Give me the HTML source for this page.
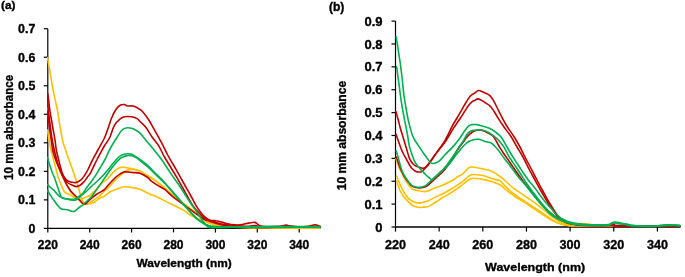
<!DOCTYPE html>
<html><head><meta charset="utf-8"><style>
html,body{margin:0;padding:0;background:#fff;width:685px;height:277px;overflow:hidden}
svg{display:block}
.t{will-change:transform}
</style></head><body>
<svg width="685" height="277" viewBox="0 0 685 277">
<defs>
<clipPath id="ca"><rect x="47" y="20" width="274.5" height="210"/></clipPath>
<clipPath id="cb"><rect x="395" y="20" width="286" height="209"/></clipPath>
</defs>
<rect width="685" height="277" fill="#fff"/>
<g stroke="#000" stroke-width="1.2" fill="none">
<line x1="47.80" y1="28.70" x2="47.80" y2="229.00"/>
<line x1="47.20" y1="228.40" x2="320.50" y2="228.40" stroke-width="1.20"/>
<line x1="43.80" y1="228.40" x2="47.80" y2="228.40"/>
<line x1="43.80" y1="199.87" x2="47.80" y2="199.87"/>
<line x1="43.80" y1="171.34" x2="47.80" y2="171.34"/>
<line x1="43.80" y1="142.81" x2="47.80" y2="142.81"/>
<line x1="43.80" y1="114.29" x2="47.80" y2="114.29"/>
<line x1="43.80" y1="85.76" x2="47.80" y2="85.76"/>
<line x1="43.80" y1="57.23" x2="47.80" y2="57.23"/>
<line x1="43.80" y1="28.70" x2="47.80" y2="28.70"/>
<line x1="47.80" y1="228.40" x2="47.80" y2="232.40"/>
<line x1="89.70" y1="228.40" x2="89.70" y2="232.40"/>
<line x1="131.60" y1="228.40" x2="131.60" y2="232.40"/>
<line x1="173.50" y1="228.40" x2="173.50" y2="232.40"/>
<line x1="215.40" y1="228.40" x2="215.40" y2="232.40"/>
<line x1="257.30" y1="228.40" x2="257.30" y2="232.40"/>
<line x1="299.20" y1="228.40" x2="299.20" y2="232.40"/>
</g>
<g stroke="#000" stroke-width="1.2" fill="none">
<line x1="395.50" y1="21.10" x2="395.50" y2="227.60"/>
<line x1="394.90" y1="227.00" x2="680.60" y2="227.00" stroke-width="1.50"/>
<line x1="391.50" y1="227.00" x2="395.50" y2="227.00"/>
<line x1="391.50" y1="204.12" x2="395.50" y2="204.12"/>
<line x1="391.50" y1="181.24" x2="395.50" y2="181.24"/>
<line x1="391.50" y1="158.37" x2="395.50" y2="158.37"/>
<line x1="391.50" y1="135.49" x2="395.50" y2="135.49"/>
<line x1="391.50" y1="112.61" x2="395.50" y2="112.61"/>
<line x1="391.50" y1="89.73" x2="395.50" y2="89.73"/>
<line x1="391.50" y1="66.86" x2="395.50" y2="66.86"/>
<line x1="391.50" y1="43.98" x2="395.50" y2="43.98"/>
<line x1="391.50" y1="21.10" x2="395.50" y2="21.10"/>
<line x1="395.50" y1="227.00" x2="395.50" y2="231.60"/>
<line x1="439.15" y1="227.00" x2="439.15" y2="231.60"/>
<line x1="482.80" y1="227.00" x2="482.80" y2="231.60"/>
<line x1="526.45" y1="227.00" x2="526.45" y2="231.60"/>
<line x1="570.10" y1="227.00" x2="570.10" y2="231.60"/>
<line x1="613.75" y1="227.00" x2="613.75" y2="231.60"/>
<line x1="657.40" y1="227.00" x2="657.40" y2="231.60"/>
</g>
<g fill="none" stroke-width="1.6" stroke-linejoin="round" stroke-linecap="round" clip-path="url(#ca)">
<path d="M47.5,57.6C47.9,60.0 49.1,66.9 50.0,72.0C50.9,77.1 51.9,83.5 52.7,88.0C53.5,92.5 54.2,95.3 55.0,99.0C55.8,102.7 56.6,105.8 57.4,110.0C58.2,114.2 58.9,119.8 59.6,124.0C60.3,128.2 60.9,131.7 61.5,135.0C62.1,138.3 62.8,141.5 63.5,144.0C64.2,146.5 64.7,147.3 65.6,150.0C66.5,152.7 67.8,156.7 69.0,160.0C70.2,163.3 71.7,167.2 72.7,170.0C73.7,172.8 74.1,174.3 75.0,177.0C75.9,179.7 76.9,182.8 77.9,186.0C78.9,189.2 80.0,193.5 80.8,196.0C81.6,198.5 82.0,199.9 82.5,201.0C83.0,202.1 83.3,202.1 84.1,202.5C84.8,202.9 86.2,203.3 87.0,203.5C87.8,203.7 88.2,203.9 89.0,203.8C89.8,203.7 91.0,203.3 92.0,203.0C93.0,202.7 93.8,202.5 95.1,201.7C96.4,200.9 98.5,198.9 100.0,198.0C101.5,197.1 102.3,197.4 104.0,196.4C105.7,195.4 108.3,193.0 110.0,192.0C111.7,191.0 112.4,191.0 114.1,190.3C115.8,189.6 118.3,188.6 120.0,188.0C121.7,187.4 122.5,186.9 124.2,186.8C125.9,186.7 127.4,186.8 130.0,187.2C132.6,187.6 136.6,188.1 140.0,189.3C143.4,190.5 147.8,193.3 150.2,194.4C152.6,195.5 151.4,194.4 154.6,195.8C157.8,197.2 164.3,200.7 169.2,203.1C174.1,205.5 180.2,208.3 183.8,210.4C187.5,212.5 187.9,213.8 191.1,215.5C194.3,217.2 199.7,219.4 202.8,220.7C206.0,222.0 207.1,222.6 210.0,223.5C212.9,224.4 215.0,225.4 220.0,226.0C225.0,226.6 230.0,227.0 240.0,227.3C250.0,227.6 266.7,227.7 280.0,227.8C293.3,227.9 313.3,228.0 320.0,228.0" stroke="#FFC000"/>
<path d="M47.5,130.0C47.7,131.2 48.1,134.5 48.5,137.0C48.9,139.5 49.5,142.5 50.0,145.0C50.5,147.5 50.9,149.5 51.5,152.0C52.1,154.5 52.8,157.5 53.5,160.0C54.2,162.5 54.8,164.5 55.5,167.0C56.2,169.5 56.8,172.5 57.5,175.0C58.2,177.5 59.2,179.8 60.0,182.0C60.8,184.2 61.7,186.3 62.5,188.0C63.3,189.7 63.8,191.1 64.6,192.0C65.3,192.9 66.1,193.1 67.0,193.5C67.9,193.9 69.1,194.0 70.0,194.5C70.9,195.0 71.4,195.8 72.3,196.4C73.2,197.0 74.4,197.6 75.4,198.0C76.4,198.4 77.5,198.8 78.5,199.0C79.5,199.2 80.4,199.1 81.2,199.0C82.0,198.9 82.2,198.5 83.1,198.2C84.0,197.9 85.3,197.5 86.5,197.0C87.7,196.5 89.0,196.0 90.2,195.1C91.5,194.2 92.8,192.7 94.0,191.5C95.2,190.3 96.2,189.1 97.3,188.0C98.4,186.9 99.5,186.0 100.5,185.0C101.5,184.0 102.2,182.9 103.3,182.0C104.4,181.1 105.8,180.5 106.9,179.5C108.0,178.5 108.8,177.3 110.0,176.0C111.2,174.7 112.8,172.7 114.0,171.5C115.2,170.3 116.5,169.5 117.5,168.8C118.5,168.2 119.2,167.9 120.3,167.6C121.4,167.3 122.7,167.1 124.0,167.2C125.3,167.3 126.5,167.7 128.0,168.0C129.6,168.3 131.3,168.5 133.3,169.0C135.3,169.5 138.1,170.3 140.0,171.1C141.9,171.9 143.6,173.3 144.8,174.0C146.0,174.7 145.7,174.5 147.3,175.5C148.9,176.5 152.5,178.4 154.6,179.8C156.7,181.2 158.3,182.6 160.0,184.0C161.7,185.4 163.3,186.6 165.0,188.0C166.7,189.4 168.3,191.1 170.0,192.5C171.7,193.9 173.3,195.2 175.0,196.5C176.7,197.8 178.3,199.2 180.0,200.5C181.7,201.8 183.3,203.2 185.0,204.5C186.7,205.8 188.2,207.1 190.0,208.5C191.8,209.9 194.0,211.5 196.0,213.0C198.0,214.5 200.0,216.1 202.0,217.5C204.0,218.9 205.8,220.3 208.0,221.5C210.2,222.7 212.2,223.7 215.0,224.5C217.8,225.3 220.8,225.9 225.0,226.3C229.2,226.8 230.8,227.0 240.0,227.2C249.2,227.4 266.7,227.5 280.0,227.6C293.3,227.7 313.3,227.8 320.0,227.8" stroke="#FFC000"/>
<path d="M47.5,108.0C47.7,109.5 48.2,113.8 48.6,117.0C49.0,120.2 49.5,123.7 49.9,127.0C50.3,130.3 50.8,133.8 51.3,137.0C51.8,140.2 52.3,143.3 52.8,146.0C53.3,148.7 53.8,150.5 54.5,153.0C55.2,155.5 56.0,158.3 56.8,161.0C57.6,163.7 58.5,166.4 59.5,169.0C60.5,171.6 61.4,174.1 62.5,176.5C63.6,178.9 64.8,181.2 66.0,183.5C67.2,185.8 68.7,188.5 70.0,190.5C71.3,192.5 72.7,194.0 74.0,195.5C75.3,197.0 76.7,198.3 78.0,199.5C79.3,200.7 80.8,202.0 82.0,202.8C83.2,203.6 84.0,204.1 85.0,204.3C86.0,204.5 86.8,204.4 88.1,203.8C89.4,203.2 91.2,201.7 93.0,200.5C94.8,199.3 97.2,197.7 98.9,196.4C100.6,195.1 101.8,193.7 103.0,192.5C104.2,191.3 105.3,190.5 106.4,189.5C107.5,188.5 108.2,187.9 109.5,186.5C110.8,185.1 113.0,182.6 114.5,181.0C116.0,179.4 117.1,178.3 118.5,177.0C119.9,175.7 121.6,174.1 123.0,173.0C124.4,171.9 125.5,170.9 127.0,170.3C128.5,169.7 130.2,169.4 132.0,169.4C133.8,169.4 135.9,169.8 138.0,170.6C140.1,171.3 143.2,173.1 144.8,173.9C146.4,174.7 145.7,174.5 147.3,175.6C148.9,176.7 152.5,178.8 154.6,180.3C156.7,181.8 158.3,183.1 160.0,184.5C161.7,185.9 163.3,187.1 165.0,188.5C166.7,189.9 168.3,191.6 170.0,193.0C171.7,194.4 173.3,195.7 175.0,197.0C176.7,198.3 178.3,199.7 180.0,201.0C181.7,202.3 183.3,203.7 185.0,205.0C186.7,206.3 188.2,207.6 190.0,209.0C191.8,210.4 194.0,212.0 196.0,213.5C198.0,215.0 200.0,216.6 202.0,218.0C204.0,219.4 205.8,220.8 208.0,222.0C210.2,223.2 212.2,224.2 215.0,225.0C217.8,225.8 220.8,226.2 225.0,226.6C229.2,227.0 230.8,227.2 240.0,227.4C249.2,227.6 266.7,227.7 280.0,227.8C293.3,227.9 313.3,228.0 320.0,228.0" stroke="#FFC000"/>
<path d="M47.7,93.5C47.9,94.8 48.4,98.2 48.8,101.0C49.1,103.8 49.3,106.8 49.8,110.0C50.2,113.2 50.9,116.7 51.5,120.0C52.1,123.3 52.6,126.7 53.2,130.0C53.8,133.3 54.5,136.7 55.0,140.0C55.5,143.3 55.8,147.0 56.3,150.0C56.8,153.0 57.6,155.3 58.2,158.0C58.9,160.7 59.5,163.5 60.2,166.0C60.9,168.5 61.5,171.0 62.3,173.0C63.1,175.0 63.8,176.7 64.8,178.0C65.8,179.3 66.8,180.3 68.0,181.0C69.2,181.7 70.7,182.1 72.0,182.3C73.3,182.6 74.5,182.9 76.0,182.5C77.5,182.1 79.6,181.0 81.0,179.8C82.4,178.6 83.3,177.2 84.5,175.5C85.7,173.8 86.7,172.1 88.0,169.5C89.3,166.9 90.8,163.2 92.5,160.0C94.2,156.8 95.9,153.7 97.9,150.0C99.9,146.3 102.7,141.6 104.4,138.0C106.1,134.4 106.8,131.8 108.0,128.5C109.2,125.2 110.2,121.4 111.5,118.2C112.8,115.0 114.5,111.7 115.9,109.5C117.4,107.3 118.8,106.0 120.2,105.2C121.6,104.4 123.3,104.4 124.5,104.5C125.7,104.6 126.0,105.8 127.4,106.0C128.8,106.2 131.3,105.5 133.2,106.0C135.1,106.5 137.3,107.7 139.0,108.8C140.7,109.9 141.7,110.5 143.3,112.4C144.9,114.3 146.9,117.0 148.8,120.0C150.7,123.0 152.4,126.3 154.6,130.2C156.8,134.1 159.7,139.3 161.9,143.4C164.1,147.5 165.8,151.4 167.7,155.0C169.6,158.6 171.6,161.6 173.5,165.0C175.4,168.4 177.5,172.0 179.4,175.4C181.3,178.8 183.2,182.2 185.0,185.5C186.8,188.8 188.7,191.8 190.4,195.0C192.2,198.2 193.9,201.8 195.5,204.6C197.1,207.3 198.6,209.6 200.0,211.5C201.4,213.4 202.5,214.8 204.2,216.3C205.9,217.8 208.1,219.6 210.0,220.3C211.9,221.0 213.8,220.3 215.9,220.7C218.0,221.0 219.9,221.8 222.5,222.4C225.1,223.0 228.4,224.1 231.3,224.5C234.2,224.9 237.1,225.1 240.0,224.9C242.9,224.7 246.3,223.5 248.8,223.1C251.3,222.7 253.2,222.0 254.9,222.4C256.6,222.8 257.7,224.7 259.3,225.4C260.9,226.1 261.4,226.4 264.5,226.6C267.6,226.8 274.5,226.6 278.0,226.4C281.5,226.2 283.3,225.4 285.6,225.4C287.9,225.4 289.6,226.1 292.0,226.3C294.4,226.6 297.3,226.9 300.0,226.9C302.7,226.9 305.5,226.6 308.0,226.3C310.5,226.0 313.0,224.9 315.0,224.9C317.0,224.9 319.2,226.1 320.0,226.3" stroke="#C00000"/>
<path d="M47.5,103.0C47.6,104.2 48.0,107.2 48.3,110.0C48.6,112.8 49.1,116.7 49.5,120.0C49.9,123.3 50.3,126.7 50.8,130.0C51.2,133.3 51.7,137.0 52.2,140.0C52.7,143.0 53.2,145.3 53.8,148.0C54.4,150.7 55.0,153.2 55.7,156.0C56.4,158.8 57.3,162.2 58.2,165.0C59.1,167.8 60.2,170.7 61.3,173.0C62.3,175.3 63.4,177.3 64.5,179.0C65.6,180.7 66.8,182.0 68.0,183.0C69.2,184.0 70.6,184.4 72.0,185.0C73.4,185.6 75.1,186.6 76.5,186.6C77.9,186.6 79.2,185.8 80.5,185.0C81.8,184.2 82.8,183.1 84.0,181.8C85.2,180.5 86.4,178.5 87.5,177.0C88.6,175.5 89.2,175.4 90.7,172.6C92.2,169.8 95.2,163.1 96.8,160.0C98.3,156.9 98.8,156.2 100.0,154.0C101.2,151.8 102.4,149.2 104.0,146.5C105.6,143.8 107.8,141.5 109.5,138.0C111.2,134.5 112.6,128.6 114.4,125.4C116.2,122.2 118.5,120.3 120.2,118.9C121.9,117.5 122.6,117.2 124.5,116.8C126.4,116.4 129.5,116.4 131.7,116.8C133.9,117.2 136.1,118.1 137.5,118.9C138.9,119.7 138.6,120.1 140.0,121.5C141.4,122.9 143.7,124.6 145.8,127.3C147.9,130.0 150.2,134.3 152.4,137.5C154.6,140.7 157.2,143.4 159.0,146.3C160.8,149.2 162.2,152.7 163.4,155.0C164.6,157.3 164.1,156.3 166.3,160.0C168.5,163.7 173.1,171.1 176.5,176.9C179.9,182.7 183.9,190.2 186.7,195.0C189.4,199.8 190.8,202.8 193.0,206.0C195.2,209.2 197.8,211.8 200.0,214.0C202.2,216.2 203.5,217.7 206.0,219.0C208.5,220.3 211.8,221.1 215.0,222.0C218.2,222.9 220.8,223.9 225.0,224.5C229.2,225.1 236.0,225.5 240.0,225.8C244.0,226.1 246.5,226.4 249.0,226.3C251.5,226.2 253.2,225.5 255.0,225.5C256.8,225.5 255.8,226.3 260.0,226.5C264.2,226.7 270.0,226.7 280.0,226.8C290.0,226.9 313.3,226.9 320.0,226.9" stroke="#C00000"/>
<path d="M47.5,111.0C47.7,112.5 48.1,116.8 48.5,120.0C48.9,123.2 49.3,126.7 49.8,130.0C50.2,133.3 50.7,136.7 51.2,140.0C51.7,143.3 52.1,147.0 52.7,150.0C53.3,153.0 54.2,155.5 55.0,158.0C55.8,160.5 56.7,162.7 57.7,165.0C58.7,167.3 59.5,169.0 60.8,172.0C62.1,175.0 64.2,179.8 65.7,182.8C67.2,185.8 68.8,188.2 70.0,190.0C71.2,191.8 71.9,192.3 73.0,193.5C74.1,194.7 75.3,195.7 76.5,196.9C77.7,198.1 78.8,199.3 80.0,200.5C81.2,201.7 82.4,203.5 83.4,204.0C84.4,204.5 84.8,204.4 86.0,203.5C87.2,202.6 88.9,200.4 90.7,198.8C92.5,197.2 94.8,195.5 97.0,194.0C99.2,192.5 102.2,191.2 103.9,190.0C105.6,188.8 105.7,188.0 107.0,186.5C108.3,185.0 110.5,182.6 112.0,181.0C113.5,179.4 114.6,178.2 116.0,177.0C117.4,175.8 119.2,174.4 120.6,173.6C122.0,172.8 123.0,172.1 124.6,171.9C126.2,171.7 128.6,172.1 130.0,172.2C131.4,172.3 131.6,172.4 133.3,172.6C135.0,172.8 137.6,172.4 140.0,173.2C142.4,174.0 145.8,176.2 147.7,177.5C149.6,178.8 149.3,179.6 151.7,181.3C154.1,183.0 159.6,186.4 161.9,187.8C164.2,189.2 163.6,188.4 165.5,190.0C167.4,191.6 170.5,194.8 173.6,197.3C176.7,199.8 180.3,202.3 184.0,205.0C187.7,207.7 192.1,211.0 195.5,213.4C198.9,215.8 201.8,217.9 204.2,219.2C206.6,220.5 207.4,220.5 210.0,221.4C212.6,222.3 215.8,223.7 220.0,224.5C224.2,225.3 225.8,226.0 235.0,226.5C244.2,227.0 267.2,227.4 275.0,227.3C282.8,227.2 280.0,226.3 282.0,226.0C284.0,225.7 285.2,225.3 287.0,225.4C288.8,225.5 287.5,226.3 293.0,226.6C298.5,226.9 315.5,227.1 320.0,227.2" stroke="#C00000"/>
<path d="M47.5,157.5C47.9,158.9 49.2,163.6 50.0,166.0C50.8,168.4 51.3,169.9 52.1,172.0C52.9,174.1 53.8,175.8 54.8,178.5C55.8,181.2 57.0,185.2 58.1,188.3C59.2,191.4 60.1,195.2 61.3,196.9C62.4,198.7 63.4,198.4 65.0,198.8C66.6,199.2 69.4,199.3 71.1,199.3C72.8,199.3 73.7,199.5 75.0,199.0C76.3,198.5 77.7,197.5 79.0,196.5C80.3,195.5 81.7,194.7 83.0,193.2C84.3,191.7 85.4,189.4 86.7,187.5C88.0,185.6 89.6,183.9 91.0,182.0C92.4,180.1 93.8,178.2 95.3,175.9C96.8,173.6 98.4,170.7 100.0,168.0C101.6,165.3 103.0,163.2 104.7,160.0C106.4,156.8 108.0,152.7 110.0,149.0C112.0,145.3 114.7,141.1 116.6,138.0C118.5,134.9 120.0,132.2 121.6,130.5C123.2,128.8 124.3,128.4 126.0,128.0C127.7,127.6 129.8,127.8 131.7,128.3C133.6,128.8 136.1,130.4 137.5,131.2C138.9,132.0 139.0,132.1 140.0,133.1C141.0,134.1 142.1,135.5 143.3,137.0C144.5,138.5 145.4,139.6 147.3,141.9C149.2,144.2 152.2,147.7 154.6,150.7C157.0,153.7 159.5,156.6 161.9,160.0C164.3,163.4 166.3,166.8 169.2,171.1C172.1,175.4 176.7,181.7 179.4,185.7C182.1,189.7 183.1,191.6 185.3,195.0C187.5,198.4 190.5,203.1 192.6,206.1C194.7,209.1 196.2,211.0 197.7,213.2C199.2,215.3 200.3,217.2 201.5,219.0C202.7,220.8 203.9,222.8 205.1,224.2C206.3,225.6 207.5,226.7 208.8,227.3C210.1,227.9 207.8,227.7 213.0,227.6C218.2,227.5 230.5,227.2 240.0,227.0C249.5,226.8 256.7,226.7 270.0,226.6C283.3,226.5 311.7,226.6 320.0,226.6" stroke="#00B050"/>
<path d="M47.5,184.5C48.0,185.0 49.4,186.5 50.5,187.5C51.6,188.5 53.1,189.4 54.2,190.5C55.3,191.6 56.0,193.0 57.0,194.0C58.0,195.0 58.8,195.9 60.0,196.6C61.2,197.3 62.8,197.9 64.0,198.3C65.2,198.7 66.2,198.7 67.4,199.0C68.6,199.3 69.8,199.8 71.0,200.0C72.2,200.2 73.5,200.4 74.7,200.2C75.9,199.9 76.8,199.4 78.0,198.5C79.2,197.6 80.4,196.4 82.0,195.0C83.6,193.6 85.9,191.8 87.8,190.0C89.7,188.2 91.6,186.2 93.5,184.5C95.4,182.8 97.3,181.1 99.0,179.5C100.7,177.9 101.9,176.8 103.5,175.0C105.1,173.2 106.9,171.1 108.6,169.0C110.3,166.9 112.1,164.5 113.8,162.5C115.5,160.5 117.4,158.2 118.8,157.0C120.2,155.8 120.9,155.5 122.0,155.0C123.1,154.5 124.4,154.2 125.5,154.0C126.6,153.8 127.4,153.7 128.5,153.8C129.6,153.9 130.8,154.1 132.0,154.6C133.2,155.1 134.6,155.9 136.0,156.8C137.4,157.7 138.6,158.4 140.5,159.8C142.4,161.2 145.0,163.1 147.3,165.2C149.7,167.3 151.7,169.6 154.6,172.5C157.5,175.4 161.4,179.0 164.8,182.7C168.2,186.3 171.8,190.8 175.0,194.4C178.2,198.1 181.1,201.6 183.8,204.6C186.5,207.6 188.8,210.2 191.0,212.5C193.2,214.8 195.0,216.8 197.0,218.5C199.0,220.2 201.2,221.7 203.0,222.8C204.8,223.9 206.3,224.7 208.0,225.3C209.7,225.9 211.0,226.2 213.0,226.4C215.0,226.7 215.5,226.7 220.0,226.8C224.5,226.9 231.7,226.9 240.0,226.9C248.3,226.9 260.0,226.6 270.0,226.6C280.0,226.6 291.7,227.0 300.0,227.0C308.3,227.0 316.7,226.8 320.0,226.7" stroke="#00B050"/>
<path d="M47.5,190.5C47.9,191.2 49.1,193.1 50.0,194.5C50.9,195.9 51.6,197.1 52.8,198.8C54.0,200.5 55.6,202.9 57.1,204.6C58.6,206.3 59.8,208.2 61.5,209.0C63.2,209.8 65.8,209.4 67.4,209.7C69.0,210.0 69.8,210.8 71.0,211.0C72.2,211.2 73.4,211.8 74.7,211.2C76.0,210.6 77.5,208.6 79.0,207.5C80.5,206.4 81.9,205.8 83.4,204.6C84.9,203.3 86.5,201.5 88.0,200.0C89.5,198.5 90.4,198.1 92.2,195.8C94.0,193.6 96.8,189.3 98.8,186.5C100.8,183.7 102.4,181.2 104.0,179.0C105.6,176.8 106.7,175.2 108.2,173.0C109.8,170.8 111.4,168.3 113.3,166.0C115.2,163.7 117.9,160.7 119.5,159.2C121.1,157.7 121.8,157.6 123.0,157.0C124.2,156.4 125.4,156.1 126.5,155.8C127.6,155.5 128.4,155.4 129.5,155.4C130.6,155.4 131.8,155.5 133.0,156.0C134.2,156.5 135.8,157.4 137.0,158.2C138.2,159.0 138.8,159.6 140.5,161.0C142.2,162.4 145.0,164.4 147.3,166.5C149.7,168.6 151.7,170.7 154.6,173.5C157.5,176.3 161.4,179.9 164.8,183.5C168.2,187.1 171.8,191.4 175.0,195.0C178.2,198.6 181.1,202.0 183.8,205.0C186.5,208.0 188.8,210.6 191.0,213.0C193.2,215.4 195.0,217.5 197.0,219.2C199.0,220.9 201.2,222.2 203.0,223.3C204.8,224.4 206.3,225.2 208.0,225.8C209.7,226.4 211.0,226.7 213.0,227.0C215.0,227.3 215.5,227.3 220.0,227.4C224.5,227.5 231.7,227.4 240.0,227.3C248.3,227.2 260.0,227.1 270.0,227.1C280.0,227.1 291.7,227.3 300.0,227.3C308.3,227.3 316.7,227.1 320.0,227.1" stroke="#00B050"/>
</g>
<g fill="none" stroke-width="1.6" stroke-linejoin="round" stroke-linecap="round" clip-path="url(#cb)">
<path d="M396.0,158.5C396.2,159.3 396.9,161.8 397.5,163.5C398.1,165.2 398.8,167.3 399.5,168.8C400.2,170.3 400.9,170.9 401.7,172.5C402.5,174.1 403.5,176.7 404.5,178.5C405.5,180.3 406.3,181.9 407.5,183.6C408.7,185.3 410.6,187.5 411.8,188.6C413.1,189.7 413.8,189.6 415.0,190.0C416.2,190.4 417.1,190.6 419.0,190.8C420.9,191.1 423.8,191.9 426.2,191.5C428.6,191.1 430.7,189.7 433.5,188.6C436.3,187.5 439.8,186.4 443.0,185.0C446.2,183.6 450.1,181.6 452.6,180.2C455.1,178.8 456.3,177.6 458.0,176.5C459.7,175.4 461.5,174.9 462.8,173.9C464.1,172.9 464.9,171.6 466.0,170.5C467.1,169.4 468.0,168.2 469.1,167.6C470.2,167.0 470.8,166.8 472.9,167.0C475.0,167.2 478.8,168.0 481.7,168.6C484.6,169.2 488.1,169.8 490.6,170.7C493.1,171.6 495.1,173.2 496.7,174.2C498.3,175.2 498.6,175.4 500.0,176.5C501.4,177.6 503.4,179.1 505.0,180.5C506.6,181.9 508.1,183.6 509.7,185.0C511.3,186.4 512.9,187.6 514.5,188.8C516.1,190.0 517.6,191.0 519.5,192.3C521.4,193.6 523.8,195.3 526.0,196.8C528.2,198.3 530.6,199.9 532.5,201.2C534.4,202.5 535.9,203.6 537.5,204.8C539.1,206.0 540.6,207.2 542.2,208.5C543.8,209.8 545.4,211.1 547.0,212.5C548.6,213.9 550.3,215.4 552.0,216.7C553.7,217.9 555.4,219.1 557.0,220.0C558.6,220.9 560.3,221.7 561.7,222.3C563.1,222.9 564.1,223.2 565.5,223.5C566.9,223.8 568.0,224.0 569.8,224.1C571.5,224.2 573.8,224.2 576.0,224.2C578.2,224.2 580.8,223.9 583.0,223.9C585.2,223.9 587.3,223.8 589.0,224.0C590.7,224.2 591.2,224.7 593.0,225.0C594.8,225.3 585.5,225.6 600.0,225.8C614.5,226.0 666.7,226.0 680.0,226.0" stroke="#FFC000"/>
<path d="M396.6,176.3C397.0,177.2 398.1,180.1 399.0,182.0C399.9,183.9 400.8,186.1 401.7,187.9C402.6,189.7 403.5,191.4 404.5,193.0C405.5,194.6 406.6,196.2 407.5,197.3C408.4,198.4 409.1,199.0 410.0,199.7C410.9,200.4 411.7,201.0 413.2,201.6C414.7,202.2 416.8,203.1 419.0,203.1C421.2,203.1 424.2,202.2 426.2,201.6C428.2,201.0 429.3,200.2 431.0,199.4C432.7,198.6 434.4,197.6 436.4,196.6C438.4,195.6 440.7,194.8 443.0,193.7C445.3,192.6 448.0,191.0 450.0,189.8C452.0,188.6 453.5,187.6 455.0,186.6C456.5,185.6 457.7,184.9 459.0,184.0C460.3,183.1 461.7,182.1 463.0,181.0C464.3,179.9 465.8,178.5 467.0,177.5C468.2,176.5 469.1,175.7 470.3,175.2C471.5,174.7 471.8,174.4 474.1,174.5C476.4,174.6 481.0,175.1 484.2,175.8C487.4,176.6 490.5,178.2 493.1,179.0C495.7,179.8 497.9,179.7 500.0,180.9C502.1,182.1 503.7,184.6 505.5,186.4C507.3,188.2 509.2,190.0 511.0,191.5C512.8,193.0 514.2,194.2 516.0,195.5C517.8,196.8 520.0,198.2 522.0,199.5C524.0,200.8 526.0,202.2 528.0,203.5C530.0,204.8 532.0,206.2 534.0,207.5C536.0,208.8 538.0,210.2 540.0,211.5C542.0,212.8 544.0,214.2 546.0,215.5C548.0,216.8 550.0,218.3 552.0,219.5C554.0,220.7 556.0,222.0 558.0,222.8C560.0,223.7 562.0,224.2 564.0,224.6C566.0,225.0 567.3,225.2 570.0,225.4C572.7,225.6 561.7,225.7 580.0,225.8C598.3,225.9 663.3,226.0 680.0,226.0" stroke="#FFC000"/>
<path d="M396.6,181.0C396.9,181.8 397.7,184.2 398.3,186.0C398.9,187.8 399.6,189.8 400.5,191.5C401.4,193.2 402.3,194.9 403.5,196.5C404.7,198.1 406.3,199.7 407.5,200.9C408.7,202.1 409.6,203.0 410.5,203.8C411.4,204.7 411.8,205.4 413.2,206.0C414.6,206.6 417.4,207.2 419.0,207.4C420.6,207.6 421.6,207.3 423.0,207.2C424.4,207.1 426.2,207.1 427.7,206.7C429.2,206.2 430.4,205.4 432.0,204.5C433.6,203.6 435.2,202.7 437.0,201.5C438.8,200.3 440.8,198.6 443.0,197.3C445.2,196.0 448.0,194.7 450.0,193.5C452.0,192.3 453.3,191.2 455.0,190.0C456.7,188.8 458.5,187.8 460.2,186.5C461.9,185.2 463.3,183.8 465.0,182.5C466.7,181.2 468.8,179.7 470.3,179.0C471.8,178.3 471.8,178.2 474.1,178.3C476.4,178.4 481.0,179.0 484.2,179.6C487.4,180.2 490.5,181.2 493.1,182.1C495.7,182.9 498.0,183.5 500.0,184.7C502.0,185.8 503.3,187.6 505.0,189.0C506.7,190.4 508.3,191.8 510.0,193.0C511.7,194.2 513.2,195.3 515.0,196.5C516.8,197.7 519.0,199.1 521.0,200.3C523.0,201.6 525.0,202.7 527.0,204.0C529.0,205.3 531.0,206.7 533.0,208.0C535.0,209.3 537.0,210.7 539.0,212.0C541.0,213.3 543.0,214.7 545.0,216.0C547.0,217.3 549.0,218.7 551.0,219.8C553.0,220.9 555.0,222.0 557.0,222.8C559.0,223.6 561.0,224.1 563.0,224.5C565.0,224.9 566.2,225.2 569.0,225.4C571.8,225.6 561.5,225.7 580.0,225.8C598.5,225.9 663.3,226.0 680.0,226.0" stroke="#FFC000"/>
<path d="M395.9,111.6C396.2,112.8 397.3,116.4 398.0,119.0C398.7,121.6 399.3,124.3 400.0,127.0C400.7,129.7 401.6,132.5 402.4,135.0C403.1,137.5 403.8,139.7 404.5,142.0C405.2,144.3 405.8,146.3 406.6,149.0C407.4,151.7 408.5,155.8 409.3,158.0C410.1,160.2 410.8,160.9 411.5,162.0C412.2,163.1 412.9,163.8 413.6,164.5C414.4,165.2 415.1,165.6 416.0,166.0C416.9,166.4 417.8,166.8 419.0,167.2C420.2,167.6 421.9,168.6 423.3,168.3C424.8,168.0 426.4,166.9 427.7,165.6C429.0,164.3 429.9,162.1 431.0,160.5C432.1,158.9 432.9,157.8 434.2,156.0C435.5,154.2 437.0,152.0 438.7,149.6C440.4,147.2 442.8,144.1 444.5,141.3C446.2,138.5 447.4,135.8 448.8,133.0C450.2,130.2 451.7,127.1 453.1,124.5C454.5,121.9 455.9,120.0 457.3,117.5C458.7,115.0 460.2,112.3 461.7,109.8C463.1,107.3 464.6,104.8 466.0,102.5C467.4,100.2 468.9,97.6 470.4,96.0C471.9,94.4 473.4,93.9 474.8,93.0C476.2,92.1 477.0,90.6 478.5,90.5C480.0,90.4 481.8,91.5 483.6,92.3C485.4,93.1 487.7,93.7 489.4,95.2C491.1,96.7 492.1,98.2 493.8,101.1C495.5,104.0 497.5,108.7 499.6,112.7C501.7,116.7 503.8,121.0 506.2,125.0C508.6,129.1 511.9,133.3 514.2,137.0C516.5,140.7 518.2,143.7 520.0,147.0C521.8,150.3 523.0,153.2 525.0,157.0C527.0,160.8 529.8,166.2 531.8,170.0C533.8,173.8 535.1,176.3 537.0,180.0C538.9,183.7 541.3,188.2 543.4,192.0C545.5,195.8 547.1,199.0 549.6,203.1C552.1,207.2 555.7,213.2 558.4,216.3C561.1,219.4 563.8,220.2 565.7,221.4C567.6,222.6 567.6,222.9 570.0,223.5C572.4,224.1 575.0,224.7 580.0,225.0C585.0,225.3 595.0,225.3 600.0,225.3C605.0,225.3 607.7,225.2 610.0,225.0C612.3,224.8 612.3,224.2 614.0,224.3C615.7,224.4 609.0,225.2 620.0,225.5C631.0,225.8 670.0,225.9 680.0,226.0" stroke="#C00000"/>
<path d="M396.1,134.4C396.5,135.6 397.7,139.2 398.5,141.5C399.3,143.8 400.0,145.9 400.8,148.0C401.6,150.1 402.5,152.1 403.5,154.0C404.5,155.9 405.6,157.8 406.6,159.6C407.6,161.4 408.6,163.5 409.5,165.0C410.4,166.5 411.2,167.7 412.3,168.8C413.4,169.9 414.7,171.0 415.8,171.5C416.9,172.0 418.1,172.0 419.0,172.0C419.9,172.0 420.6,172.2 421.5,171.7C422.4,171.2 423.5,170.0 424.4,169.0C425.3,168.0 426.1,166.9 427.0,165.8C427.9,164.7 428.7,163.6 429.5,162.5C430.3,161.4 431.1,160.8 432.0,159.5C432.9,158.2 433.9,156.5 435.0,155.0C436.1,153.5 437.1,152.3 438.7,150.3C440.3,148.3 442.9,145.0 444.5,142.8C446.1,140.6 447.0,138.9 448.2,137.0C449.4,135.1 450.4,133.3 451.5,131.5C452.6,129.7 453.9,127.7 455.0,126.0C456.1,124.3 457.0,122.9 458.0,121.5C459.0,120.1 459.7,119.2 460.8,117.5C461.9,115.8 463.3,113.5 464.6,111.5C465.9,109.5 467.3,107.1 468.5,105.5C469.7,103.9 470.8,102.7 471.9,101.8C473.0,100.9 473.9,100.8 475.0,100.3C476.1,99.8 476.8,98.5 478.5,98.9C480.2,99.3 482.9,101.2 485.0,102.5C487.1,103.8 488.9,104.7 490.9,106.9C492.8,109.1 494.8,112.7 496.7,115.7C498.6,118.7 500.2,121.5 502.6,125.0C505.0,128.6 508.9,133.3 511.3,137.0C513.7,140.7 515.0,143.7 517.0,147.0C519.0,150.3 520.9,153.2 523.0,157.0C525.1,160.8 527.5,166.2 529.5,170.0C531.5,173.8 533.1,176.5 535.0,180.0C536.9,183.5 538.9,187.3 541.0,191.0C543.1,194.7 545.0,198.1 547.5,202.0C550.0,205.9 553.4,211.4 556.0,214.5C558.6,217.6 561.0,219.0 563.0,220.5C565.0,222.0 565.2,222.5 568.0,223.3C570.8,224.1 574.7,224.7 580.0,225.1C585.3,225.5 583.3,225.3 600.0,225.5C616.7,225.7 666.7,226.1 680.0,226.2" stroke="#C00000"/>
<path d="M396.2,156.7C396.5,157.6 397.4,160.2 398.0,162.0C398.6,163.8 399.4,165.9 400.0,167.5C400.6,169.1 401.0,170.1 401.7,171.5C402.4,172.9 403.1,174.5 404.0,176.0C404.9,177.5 406.2,179.2 407.1,180.5C408.0,181.8 408.8,182.6 409.5,183.5C410.2,184.4 410.5,185.1 411.4,185.7C412.3,186.3 413.6,186.9 415.0,187.3C416.4,187.7 418.4,188.1 420.1,188.0C421.9,187.9 424.0,187.4 425.5,186.8C427.0,186.2 427.9,185.2 429.0,184.3C430.1,183.4 430.7,182.8 432.0,181.6C433.3,180.4 435.2,178.7 437.0,177.0C438.8,175.3 441.3,173.3 443.0,171.5C444.7,169.7 445.9,168.2 447.3,166.3C448.7,164.4 450.1,162.1 451.5,159.8C452.9,157.5 454.7,154.6 456.0,152.5C457.3,150.4 458.3,148.7 459.5,147.0C460.7,145.3 462.0,143.9 463.2,142.3C464.4,140.7 465.5,138.8 466.5,137.5C467.5,136.2 468.0,135.7 469.0,134.8C470.0,133.9 471.3,132.7 472.5,132.0C473.7,131.3 474.9,130.8 476.0,130.5C477.1,130.2 477.9,129.8 479.2,129.9C480.5,130.0 482.5,130.5 484.0,131.0C485.5,131.5 486.8,132.4 488.0,133.0C489.2,133.6 490.0,133.9 491.0,134.6C492.0,135.3 492.9,135.8 493.8,137.0C494.7,138.2 495.5,139.8 496.5,141.5C497.5,143.2 498.5,145.4 499.6,147.2C500.7,149.0 501.8,150.7 503.0,152.5C504.2,154.3 505.2,155.6 506.9,158.0C508.6,160.4 510.8,163.8 513.0,167.0C515.2,170.2 517.8,174.0 520.0,177.0C522.2,180.0 524.2,182.7 526.0,185.0C527.8,187.3 529.2,188.8 531.0,191.0C532.8,193.2 535.0,196.1 537.0,198.5C539.0,200.9 541.0,203.3 543.0,205.5C545.0,207.7 547.0,209.7 549.0,211.5C551.0,213.3 552.8,215.0 555.0,216.5C557.2,218.0 559.5,219.4 562.0,220.5C564.5,221.6 567.0,222.6 570.0,223.3C573.0,224.1 575.0,224.6 580.0,225.0C585.0,225.4 594.5,225.6 600.0,225.6C605.5,225.6 609.7,225.1 613.0,225.2C616.3,225.3 608.8,226.0 620.0,226.2C631.2,226.4 670.0,226.4 680.0,226.4" stroke="#C00000"/>
<path d="M396.1,36.7C396.3,38.1 397.0,42.0 397.5,45.0C398.0,48.0 398.5,51.7 399.0,55.0C399.5,58.3 400.0,61.3 400.5,65.0C401.0,68.7 401.4,72.0 402.0,77.0C402.6,82.0 403.2,89.8 403.9,95.0C404.6,100.2 405.3,103.8 406.0,108.0C406.7,112.2 407.5,116.7 408.2,120.0C408.9,123.3 409.6,125.5 410.3,128.0C411.0,130.5 411.5,132.9 412.3,135.0C413.1,137.1 414.0,138.8 415.0,140.5C416.0,142.2 417.1,143.6 418.1,145.1C419.1,146.6 420.0,148.1 421.0,149.5C422.0,150.9 422.9,152.4 423.9,153.8C424.9,155.2 426.0,156.7 427.0,158.0C428.0,159.3 428.8,160.8 429.7,161.7C430.6,162.6 431.4,163.4 432.6,163.5C433.8,163.6 435.7,163.0 436.9,162.5C438.1,162.0 438.7,161.6 440.0,160.4C441.3,159.2 442.6,157.4 444.5,155.3C446.4,153.2 449.3,150.7 451.7,148.1C454.1,145.5 456.7,142.4 458.9,139.5C461.1,136.6 463.0,133.1 464.7,130.8C466.4,128.5 467.8,126.7 469.0,125.7C470.2,124.7 470.7,124.8 472.0,124.6C473.3,124.4 475.3,124.4 477.0,124.6C478.7,124.8 480.0,125.4 482.1,126.0C484.2,126.6 487.2,127.2 489.4,128.2C491.6,129.2 493.4,130.4 495.3,131.9C497.2,133.4 499.4,134.9 501.1,137.0C502.8,139.1 504.2,142.1 505.5,144.3C506.8,146.6 507.8,148.4 509.0,150.5C510.2,152.6 511.2,154.2 512.8,156.7C514.4,159.2 516.6,162.6 518.5,165.5C520.4,168.4 522.2,171.4 524.0,174.0C525.8,176.6 527.6,179.2 529.0,181.0C530.4,182.8 531.1,183.2 532.5,185.0C533.9,186.8 535.9,189.3 537.5,191.5C539.1,193.7 540.6,195.9 542.2,198.0C543.8,200.1 545.4,202.1 547.0,204.0C548.6,205.9 550.5,207.8 552.0,209.4C553.5,211.0 554.7,212.5 556.0,213.8C557.3,215.2 558.7,216.5 560.0,217.5C561.3,218.5 562.6,219.1 564.0,219.8C565.4,220.5 566.5,221.0 568.2,221.5C569.9,222.0 571.8,222.6 574.0,223.0C576.2,223.4 578.5,223.7 581.2,224.0C583.9,224.3 586.5,224.6 590.0,224.8C593.5,225.0 598.9,225.0 602.0,225.0C605.1,225.0 606.6,225.0 608.4,224.6C610.2,224.2 611.5,223.0 612.7,222.6C613.9,222.2 614.0,221.9 615.5,222.0C617.0,222.1 619.3,222.8 621.5,223.2C623.7,223.6 626.8,224.2 628.8,224.6C630.8,225.0 631.3,225.2 633.2,225.4C635.1,225.6 636.4,225.9 640.0,226.0C643.6,226.1 651.7,226.3 655.0,226.2C658.3,226.1 658.2,225.6 660.0,225.4C661.8,225.2 663.8,224.9 666.0,224.8C668.2,224.7 670.7,224.8 673.0,224.9C675.3,225.0 678.8,225.4 679.9,225.5" stroke="#00B050"/>
<path d="M396.6,66.6C396.8,68.3 397.5,73.4 398.0,77.0C398.5,80.6 399.1,84.8 399.5,88.0C399.9,91.2 400.1,93.0 400.5,96.0C400.9,99.0 401.4,102.5 402.0,106.0C402.6,109.5 403.4,113.7 404.0,117.0C404.6,120.3 405.2,123.0 405.8,126.0C406.4,129.0 406.9,131.6 407.5,135.0C408.1,138.4 408.8,143.6 409.5,146.6C410.2,149.6 410.8,150.8 411.5,153.0C412.2,155.2 413.0,157.7 413.8,159.6C414.6,161.5 415.5,163.1 416.5,164.5C417.5,165.9 418.5,166.9 419.6,168.2C420.7,169.5 422.2,171.0 423.3,172.1C424.4,173.2 425.1,174.1 426.0,175.0C426.9,175.9 427.8,176.8 428.8,177.5C429.8,178.2 430.8,179.7 432.0,179.5C433.2,179.3 434.7,177.7 436.0,176.5C437.3,175.3 438.8,173.7 440.0,172.5C441.2,171.3 441.8,170.8 443.0,169.5C444.2,168.2 445.9,166.3 447.3,164.5C448.7,162.7 450.1,160.6 451.5,158.5C452.9,156.4 454.6,154.2 456.0,152.0C457.4,149.8 458.8,147.3 460.0,145.5C461.2,143.7 461.9,143.0 463.2,141.0C464.5,139.0 466.3,135.2 467.6,133.5C468.9,131.8 469.9,131.5 471.0,131.0C472.1,130.5 473.1,130.5 474.5,130.3C475.9,130.1 477.6,129.7 479.2,129.7C480.8,129.7 482.5,130.1 484.0,130.5C485.5,130.9 486.7,131.5 488.0,132.2C489.3,132.9 490.6,133.6 492.0,134.6C493.4,135.6 495.4,137.2 496.7,138.4C498.0,139.6 498.8,140.5 500.0,142.0C501.2,143.5 502.4,144.5 504.0,147.2C505.6,149.9 507.9,154.8 509.9,158.0C511.8,161.2 513.8,163.6 515.7,166.5C517.6,169.4 519.6,172.6 521.5,175.5C523.4,178.4 525.2,181.4 527.0,184.0C528.8,186.6 530.3,188.8 532.0,191.0C533.7,193.2 535.2,195.2 537.0,197.5C538.8,199.8 541.0,202.7 543.0,205.0C545.0,207.3 547.0,209.6 549.0,211.5C551.0,213.4 552.8,214.9 555.0,216.5C557.2,218.1 559.5,219.7 562.0,220.8C564.5,221.9 567.0,222.6 570.0,223.3C573.0,224.0 575.0,224.5 580.0,224.8C585.0,225.1 595.3,225.3 600.0,225.3C604.7,225.3 606.3,225.3 608.4,225.0C610.5,224.7 611.5,223.6 612.7,223.2C613.9,222.8 614.0,222.5 615.5,222.6C617.0,222.7 619.3,223.3 621.5,223.7C623.7,224.1 626.8,224.7 628.8,225.0C630.8,225.3 628.8,225.5 633.2,225.7C637.6,225.9 650.2,226.3 655.0,226.3C659.8,226.3 659.8,225.7 662.0,225.5C664.2,225.3 665.8,225.2 668.0,225.1C670.2,225.0 673.0,225.1 675.0,225.2C677.0,225.3 679.2,225.6 680.0,225.7" stroke="#00B050"/>
<path d="M396.2,150.9C396.5,151.9 397.4,154.9 398.0,157.0C398.6,159.1 399.2,161.3 399.8,163.5C400.4,165.7 401.0,168.1 401.7,170.0C402.4,171.9 403.1,173.4 404.0,175.0C404.9,176.6 406.2,178.4 407.1,179.7C408.0,181.0 408.8,182.1 409.5,183.0C410.2,183.9 410.5,184.5 411.4,185.1C412.3,185.7 413.6,186.4 415.0,186.8C416.4,187.2 418.4,187.5 420.1,187.3C421.9,187.1 424.0,186.4 425.5,185.6C427.0,184.8 427.9,183.5 429.0,182.5C430.1,181.5 430.7,180.9 432.0,179.7C433.3,178.4 435.2,176.6 437.0,175.0C438.8,173.4 441.3,171.3 443.0,169.9C444.7,168.5 445.8,167.5 447.0,166.3C448.2,165.2 448.9,164.6 450.2,163.0C451.4,161.4 453.1,158.9 454.5,157.0C455.9,155.1 457.6,153.2 458.9,151.5C460.2,149.8 461.3,148.3 462.5,147.0C463.7,145.7 465.0,144.4 466.1,143.5C467.2,142.6 468.0,141.9 469.0,141.3C470.0,140.8 470.6,140.5 471.9,140.2C473.2,139.8 475.6,139.3 477.0,139.2C478.4,139.1 478.7,139.1 480.0,139.5C481.3,139.9 483.2,140.8 485.0,141.4C486.8,142.0 489.3,142.0 490.9,142.8C492.5,143.6 493.3,144.8 494.5,146.0C495.7,147.2 496.6,148.1 498.2,150.1C499.8,152.1 501.9,155.2 504.0,158.0C506.1,160.8 508.7,163.9 511.0,167.0C513.3,170.1 515.8,173.7 518.0,176.5C520.2,179.3 522.7,181.8 524.5,184.0C526.3,186.2 527.1,187.2 529.0,189.5C530.9,191.8 533.5,195.3 535.7,198.0C537.9,200.7 539.8,203.1 542.0,205.5C544.2,207.9 546.5,210.6 548.7,212.6C550.9,214.6 552.8,216.2 555.0,217.5C557.2,218.8 559.2,219.8 561.7,220.7C564.2,221.6 566.8,222.4 569.8,223.1C572.8,223.8 575.0,224.2 580.0,224.6C585.0,225.0 595.3,225.3 600.0,225.4C604.7,225.5 606.3,225.5 608.4,225.2C610.5,224.9 611.5,224.0 612.7,223.6C613.9,223.2 614.0,222.9 615.5,223.0C617.0,223.1 619.3,223.6 621.5,224.0C623.7,224.4 626.8,225.0 628.8,225.3C630.8,225.6 628.8,225.7 633.2,225.9C637.6,226.1 650.2,226.4 655.0,226.4C659.8,226.4 659.8,225.9 662.0,225.7C664.2,225.5 665.8,225.4 668.0,225.4C670.2,225.4 673.0,225.3 675.0,225.4C677.0,225.5 679.2,225.7 680.0,225.8" stroke="#00B050"/>
</g>

<g class="t" font-family="Liberation Sans" font-weight="bold" font-size="12.00" fill="#000" stroke="#000" stroke-width="0.35">
<text x="35.30" y="232.74" text-anchor="end" font-size="12.40">0</text>
<text x="35.30" y="204.21" text-anchor="end" font-size="12.40">0.1</text>
<text x="35.30" y="175.68" text-anchor="end" font-size="12.40">0.2</text>
<text x="35.30" y="147.15" text-anchor="end" font-size="12.40">0.3</text>
<text x="35.30" y="118.63" text-anchor="end" font-size="12.40">0.4</text>
<text x="35.30" y="90.10" text-anchor="end" font-size="12.40">0.5</text>
<text x="35.30" y="61.57" text-anchor="end" font-size="12.40">0.6</text>
<text x="35.30" y="33.04" text-anchor="end" font-size="12.40">0.7</text>
<text x="47.80" y="249.30" text-anchor="middle">220</text>
<text x="89.70" y="249.30" text-anchor="middle">240</text>
<text x="131.60" y="249.30" text-anchor="middle">260</text>
<text x="173.50" y="249.30" text-anchor="middle">280</text>
<text x="215.40" y="249.30" text-anchor="middle">300</text>
<text x="257.30" y="249.30" text-anchor="middle">320</text>
<text x="299.20" y="249.30" text-anchor="middle">340</text>
<text transform="translate(184.10,267.20) scale(1.07,1)" text-anchor="middle" font-size="11.12">Wavelength (nm)</text>
<text transform="translate(13.40,127.40) rotate(-90) scale(0.94,1)" text-anchor="middle" font-size="12.34">10 mm absorbance</text>
<text x="1.00" y="9.40" font-size="11.80">(a)</text>
</g>

<g class="t" font-family="Liberation Sans" font-weight="bold" font-size="12.60" fill="#000" stroke="#000" stroke-width="0.35">
<text x="382.60" y="231.55" text-anchor="end" font-size="13.00">0</text>
<text x="382.60" y="208.67" text-anchor="end" font-size="13.00">0.1</text>
<text x="382.60" y="185.79" text-anchor="end" font-size="13.00">0.2</text>
<text x="382.60" y="162.92" text-anchor="end" font-size="13.00">0.3</text>
<text x="382.60" y="140.04" text-anchor="end" font-size="13.00">0.4</text>
<text x="382.60" y="117.16" text-anchor="end" font-size="13.00">0.5</text>
<text x="382.60" y="94.28" text-anchor="end" font-size="13.00">0.6</text>
<text x="382.60" y="71.41" text-anchor="end" font-size="13.00">0.7</text>
<text x="382.60" y="48.53" text-anchor="end" font-size="13.00">0.8</text>
<text x="382.60" y="25.65" text-anchor="end" font-size="13.00">0.9</text>
<text x="395.50" y="248.50" text-anchor="middle">220</text>
<text x="439.15" y="248.50" text-anchor="middle">240</text>
<text x="482.80" y="248.50" text-anchor="middle">260</text>
<text x="526.45" y="248.50" text-anchor="middle">280</text>
<text x="570.10" y="248.50" text-anchor="middle">300</text>
<text x="613.75" y="248.50" text-anchor="middle">320</text>
<text x="657.40" y="248.50" text-anchor="middle">340</text>
<text transform="translate(535.10,271.40) scale(1.07,1)" text-anchor="middle" font-size="11.68">Wavelength (nm)</text>
<text transform="translate(345.90,135.60) rotate(-90) scale(0.94,1)" text-anchor="middle" font-size="12.87">10 mm absorbance</text>
<text x="329.00" y="10.60" font-size="12.00">(b)</text>
</g>
</svg>
</body></html>
